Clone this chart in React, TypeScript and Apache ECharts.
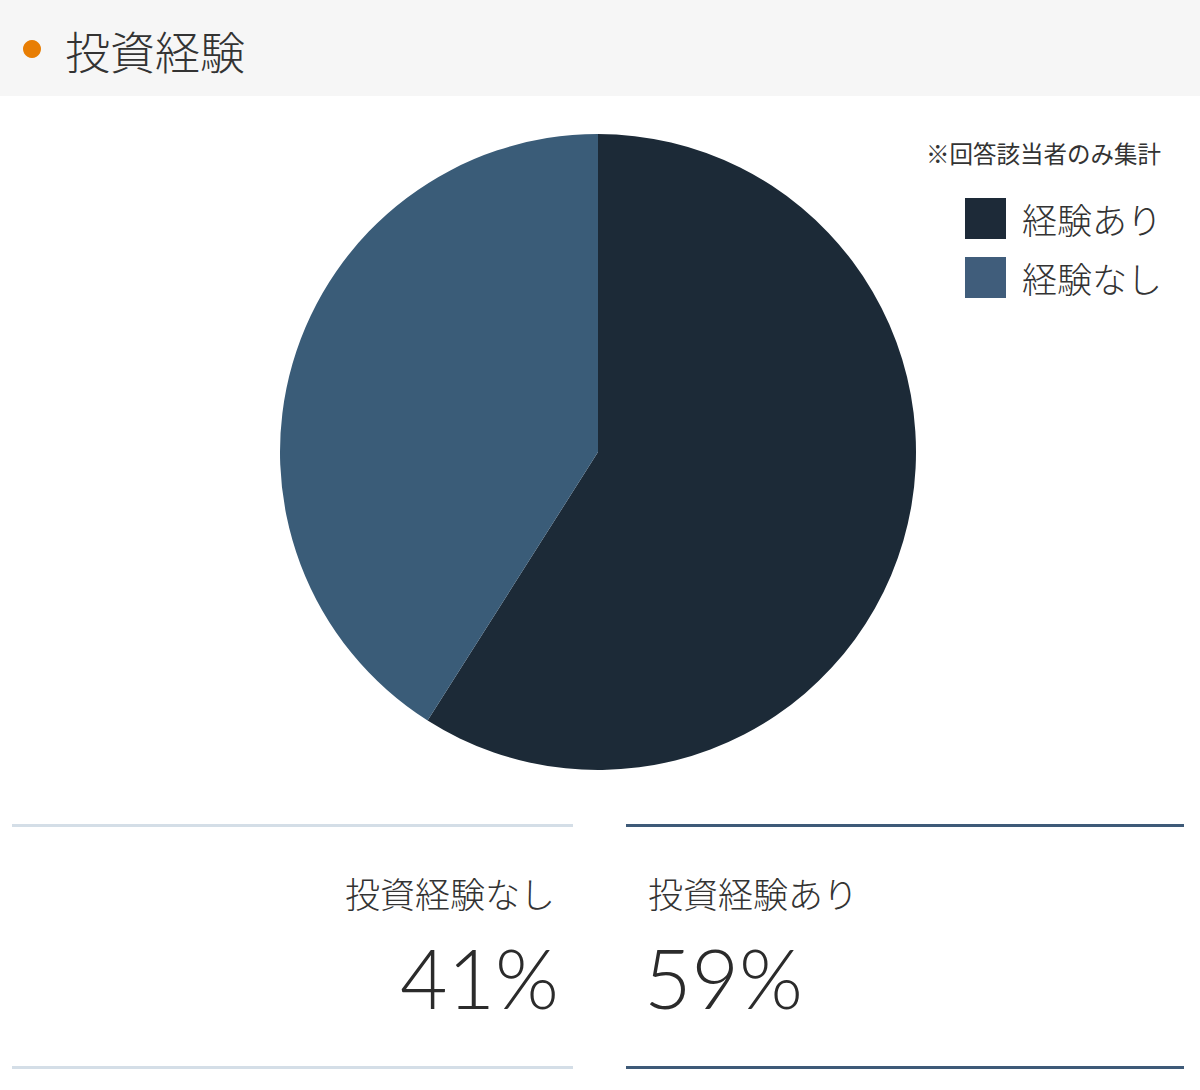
import { useEffect, useRef } from 'react'
import * as echarts from 'echarts'

const TITLE = '投資経験'
const NOTE = '※回答該当者のみ集計'
const categories = ['経験あり', '経験なし']
const values = [59, 41]
const sliceColors = ['#1c2a37', '#3a5c78']
const legendColors = ['#1d2a38', '#405d7b']

const JP = '"Noto Sans CJK JP", "Noto Sans", sans-serif'
const NUM = 'Lato, "Noto Sans", sans-serif'

export default function App() {
  const chartRef = useRef<HTMLDivElement | null>(null)

  useEffect(() => {
    document.body.style.margin = '0'
    if (!chartRef.current) return
    const chart = echarts.init(chartRef.current, undefined, { renderer: 'svg' })

    const yes = 0
    const no = 1
    const statText = (i: number, x: number, nx: number, align: 'left' | 'right') => [
      {
        type: 'text',
        x,
        y: 892,
        style: {
          text: '投資' + categories[i],
          font: `300 35px ${JP}`,
          fill: '#333333',
          align,
          verticalAlign: 'middle',
        },
      },
      {
        type: 'text',
        x: nx,
        y: 977,
        style: {
          text: `${values[i]}%`,
          font: `300 82px ${NUM}`,
          fill: '#2b2b2b',
          align,
          verticalAlign: 'middle',
        },
      },
    ]

    chart.setOption({
      animation: false,
      legend: {
        orient: 'vertical',
        right: 33,
        top: 193,
        itemWidth: 41,
        itemHeight: 41,
        itemGap: 18,
        icon: 'rect',
        selectedMode: false,
        textStyle: {
          fontFamily: JP,
          fontWeight: 300,
          fontSize: 35,
          color: '#333333',
          lineHeight: 41,
          padding: [0, 0, 0, 11],
        },
        data: categories.map((name, i) => ({
          name,
          itemStyle: { color: legendColors[i] },
        })),
      },
      graphic: [
        { type: 'rect', shape: { x: 0, y: 0, width: 1200, height: 96 }, style: { fill: '#f6f6f6' } },
        { type: 'circle', shape: { cx: 32, cy: 49, r: 9 }, style: { fill: '#e87e04' } },
        {
          type: 'text',
          x: 65,
          y: 50,
          style: { text: TITLE, font: `300 45px ${JP}`, fill: '#333333', verticalAlign: 'middle' },
        },
        {
          type: 'text',
          x: 1161,
          y: 153,
          style: { text: NOTE, font: `400 23.5px ${JP}`, fill: '#333333', align: 'right', verticalAlign: 'middle' },
        },
        { type: 'rect', shape: { x: 12, y: 824, width: 561, height: 3 }, style: { fill: '#d4dee7' } },
        { type: 'rect', shape: { x: 12, y: 1066, width: 561, height: 3 }, style: { fill: '#d4dee7' } },
        { type: 'rect', shape: { x: 626, y: 824, width: 558, height: 3 }, style: { fill: '#3e5a78' } },
        { type: 'rect', shape: { x: 626, y: 1066, width: 558, height: 3 }, style: { fill: '#3e5a78' } },
        ...statText(no, 555, 559, 'right'),
        ...statText(yes, 648, 644, 'left'),
      ],
      series: [
        {
          type: 'pie',
          center: [598, 452],
          radius: 318,
          startAngle: 90,
          clockwise: true,
          label: { show: false },
          labelLine: { show: false },
          emphasis: { disabled: true },
          itemStyle: { borderWidth: 0 },
          data: categories.map((name, i) => ({
            name,
            value: values[i],
            itemStyle: { color: sliceColors[i] },
          })),
        },
      ],
    })

    return () => chart.dispose()
  }, [])

  return <div ref={chartRef} style={{ width: 1200, height: 1090 }} />
}
